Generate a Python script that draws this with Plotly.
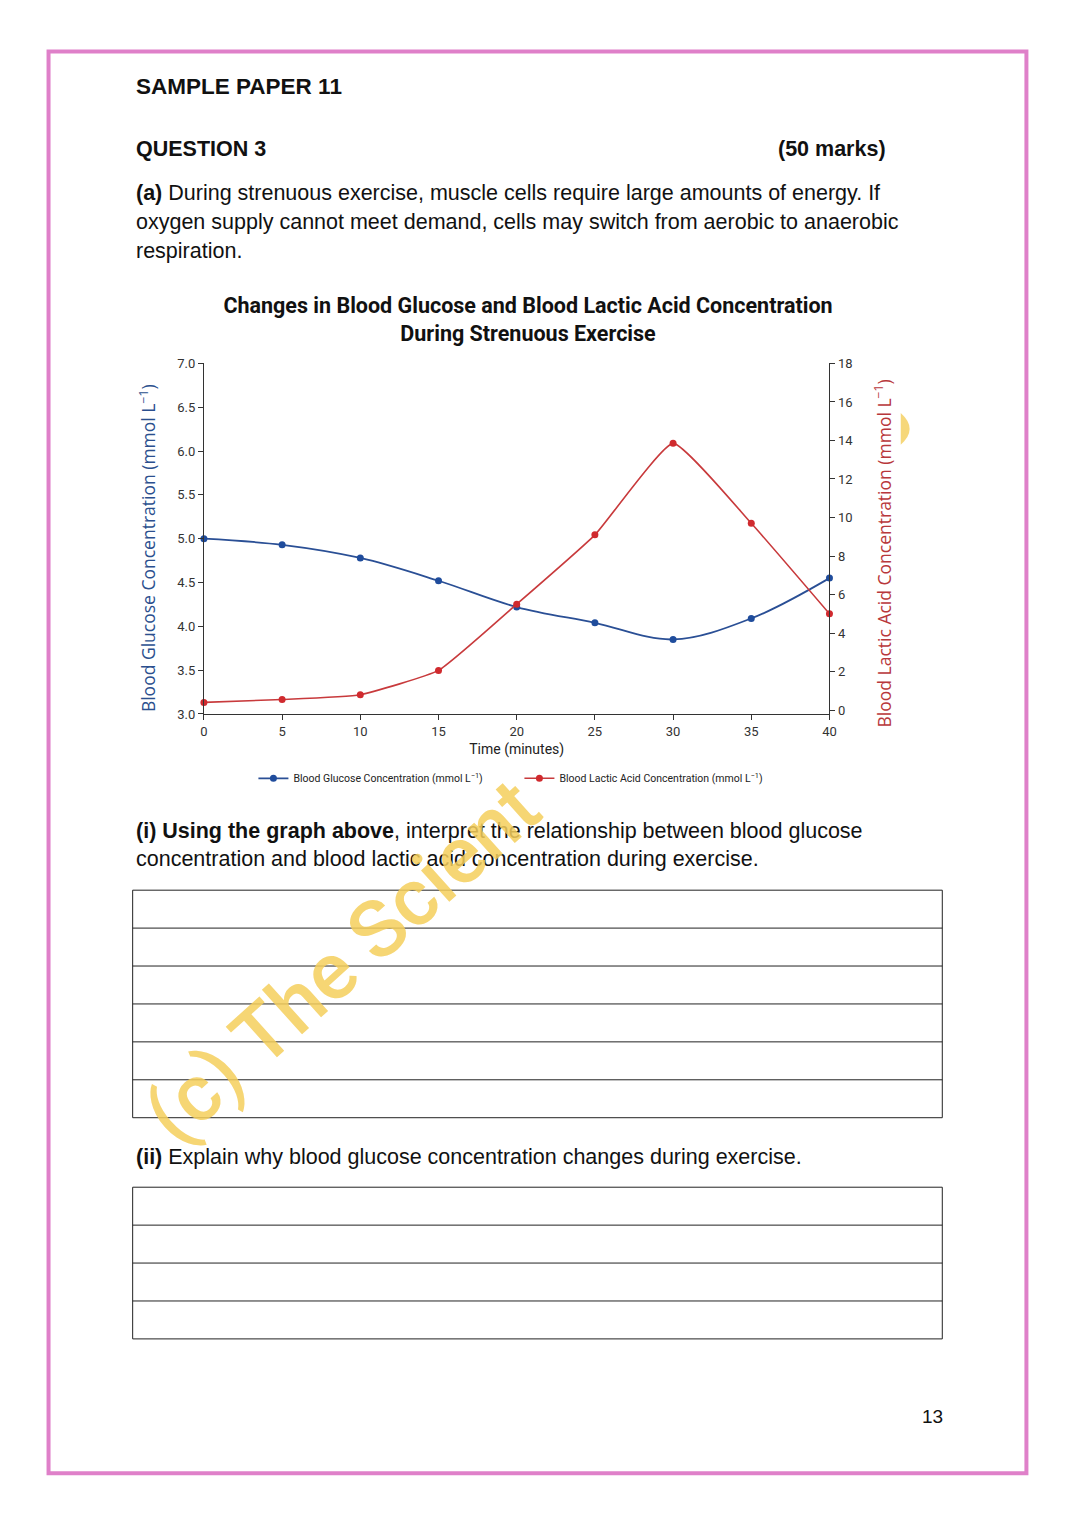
import plotly.graph_objects as go

# data
time_min = [0, 5, 10, 15, 20, 25, 30, 35, 40]
glucose = [5.0, 4.93, 4.78, 4.52, 4.22, 4.04, 3.85, 4.09, 4.55]
lactic = [0.4, 0.55, 0.8, 2.06, 5.5, 9.1, 13.85, 9.7, 5.0]

glucose_ticks = [3.0, 3.5, 4.0, 4.5, 5.0, 5.5, 6.0, 6.5, 7.0]
lactic_ticks = [0, 2, 4, 6, 8, 10, 12, 14, 16, 18]
time_ticks = [0, 5, 10, 15, 20, 25, 30, 35, 40]

W, H = 1074, 1517


def px(x):
    return x / W


def py(y):
    return 1 - y / H


BLUE = "#1f4c9c"
RED = "#d02a2e"
NARROW = "Roboto, Liberation Sans, sans-serif"
ARIAL = "Liberation Sans, Arial, sans-serif"
ROUND = "Open Sans, Noto Sans, sans-serif"

fig = go.Figure()

fig.add_trace(go.Scatter(
    x=time_min, y=glucose,
    name="Blood Glucose Concentration (mmol L<sup>−1</sup>)",
    mode="lines+markers",
    line=dict(color="#2a4f95", width=1.8, shape="spline", smoothing=1.0),
    marker=dict(color=BLUE, size=7),
    cliponaxis=False,
))

fig.add_trace(go.Scatter(
    x=time_min, y=lactic,
    name="Blood Lactic Acid Concentration (mmol L<sup>−1</sup>)",
    mode="lines+markers",
    line=dict(color="#c83a3c", width=1.6, shape="spline", smoothing=0.4),
    marker=dict(color=RED, size=7),
    yaxis="y2",
    cliponaxis=False,
))

axis_common = dict(
    showgrid=False, zeroline=False, showline=True, linecolor="#333", linewidth=1,
    ticks="outside", ticklen=5, tickcolor="#333",
    tickfont=dict(family=NARROW, size=13, color="#333"),
)

fig.update_layout(
    width=W, height=H,
    margin=dict(l=0, r=0, t=0, b=0),
    paper_bgcolor="white", plot_bgcolor="white",
    showlegend=True,
    title=dict(
        text="<b>Changes in Blood Glucose and Blood Lactic Acid Concentration<br>During Strenuous Exercise</b>",
        x=px(528), y=py(313), xanchor="center", yanchor="middle",
        font=dict(family=NARROW, size=21.5, color="#111"),
    ),
    xaxis=dict(
        axis_common, domain=[px(202), px(834)], range=[0, 40],
        tickvals=time_ticks,
        title=dict(text="Time (minutes)", standoff=6,
                   font=dict(family=NARROW, size=14, color="#222")),
    ),
    yaxis=dict(
        axis_common, domain=[py(714), py(360)], range=[3, 7],
        tickvals=glucose_ticks, tickformat=".1f",
    ),
    yaxis2=dict(
        axis_common, overlaying="y", side="right", anchor="x",
        range=[-0.2, 18], tickvals=lactic_ticks,
    ),
    legend=dict(
        orientation="h", x=px(252), y=py(779), xanchor="left", yanchor="middle",
        entrywidth=221,
        font=dict(family=NARROW, size=10.5, color="#222"),
        bgcolor="rgba(0,0,0,0)",
    ),
)

# axis titles placed as rotated text
fig.add_annotation(x=px(145), y=py(547), xref="paper", yref="paper", showarrow=False,
                   xanchor="center", yanchor="middle",
                   text="Blood Glucose Concentration (mmol L<sup>−1</sup>)", textangle=-90,
                   font=dict(family=ROUND, size=17.5, color="#2b4f8e"))
fig.add_annotation(x=px(888), y=py(552), xref="paper", yref="paper", showarrow=False,
                   xanchor="center", yanchor="middle",
                   text="Blood Lactic Acid Concentration (mmol L<sup>−1</sup>)", textangle=-90,
                   font=dict(family=ROUND, size=17.5, color="#b8373b"))

# page text
page_lines = [
    (131, 80, "<b>SAMPLE PAPER 11</b>", "left", 22.5),
    (131, 143, "<b>QUESTION 3</b>", "left", 21.5),
    (893, 143, "<b>(50 marks)</b>", "right", 21.5),
    (131, 188, "<b>(a)</b> During strenuous exercise, muscle cells require large amounts of energy. If", "left", 21.5),
    (131, 217, "oxygen supply cannot meet demand, cells may switch from aerobic to anaerobic", "left", 21.5),
    (131, 246, "respiration.", "left", 21.5),
    (131, 832, "<b>(i) Using the graph above</b>, interpret the relationship between blood glucose", "left", 21.5),
    (131, 861, "concentration and blood lactic acid concentration during exercise.", "left", 21.5),
    (131, 1161, "<b>(ii)</b> Explain why blood glucose concentration changes during exercise.", "left", 21.5),
]
for x, y, txt, anchor, size in page_lines:
    fig.add_annotation(x=px(x), y=py(y), xref="paper", yref="paper", showarrow=False,
                       text=txt, xanchor=anchor, yanchor="middle",
                       font=dict(family=ARIAL, size=size, color="#111"))

fig.add_annotation(x=px(938), y=py(1424), xref="paper", yref="paper", showarrow=False,
                   xanchor="center", yanchor="middle",
                   text="13", font=dict(family=ARIAL, size=19, color="#111"))

# watermark
fig.add_annotation(x=px(343), y=py(964), xref="paper", yref="paper", showarrow=False,
                   xanchor="center", yanchor="middle",
                   text="(c) The Scient", textangle=-42,
                   font=dict(family=NARROW, size=80, color="#f5cf5c", weight=500), opacity=0.85)
fig.add_shape(type="path", xref="paper", yref="paper",
              path=f"M {px(906)},{py(410)} Q {px(924)},{py(426)} {px(906)},{py(442)} Z",
              fillcolor="#f5d36b", line=dict(width=0), opacity=0.9)

# answer boxes
for top, rows in [(892, 6), (1192, 4)]:
    bottom = top + rows * 38.3
    fig.add_shape(type="rect", xref="paper", yref="paper",
                  x0=px(130), x1=px(948), y0=py(top), y1=py(bottom),
                  line=dict(color="#222", width=1))
    for i in range(1, rows):
        yy = top + i * 38.3
        fig.add_shape(type="line", xref="paper", yref="paper",
                      x0=px(130), x1=px(948), y0=py(yy), y1=py(yy),
                      line=dict(color="#222", width=1))

# page border
fig.add_shape(type="rect", xref="paper", yref="paper",
              x0=px(45), x1=px(1033), y0=py(45), y1=py(1481),
              line=dict(color="#df80c9", width=4))

fig.write_html(
    "out.html",
    config={"displayModeBar": False},
    post_script="document.body.style.margin = '0'; document.documentElement.style.overflow = 'hidden';",
)
